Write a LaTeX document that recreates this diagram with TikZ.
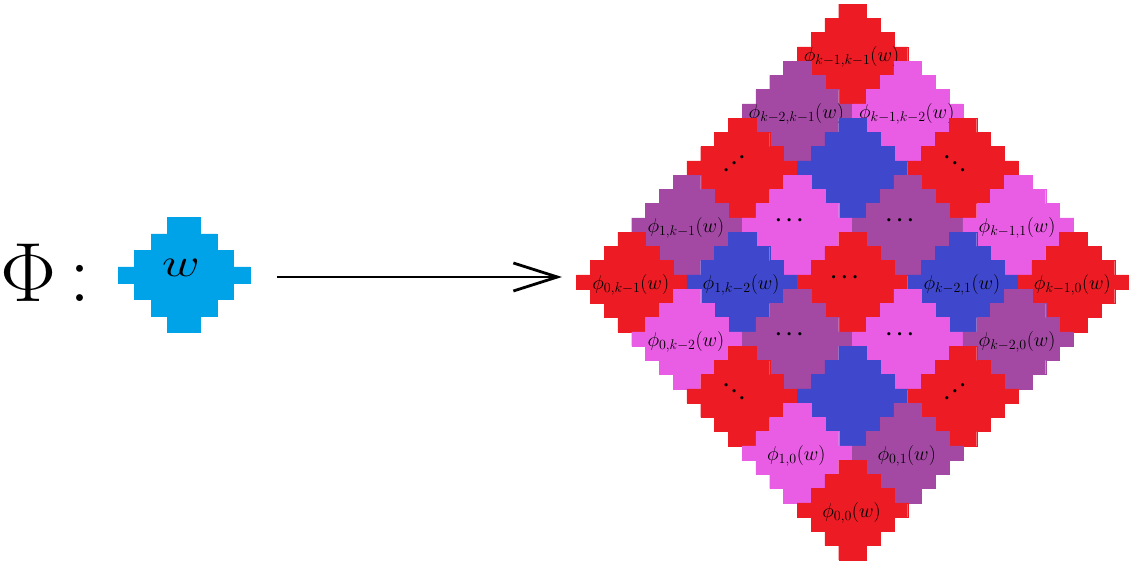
\RequirePackage{fix-cm}
\documentclass[tikz,border=0pt]{standalone}
\usepackage{graphicx}
\usetikzlibrary{arrows.meta}
\definecolor{tred}{HTML}{ED1C24}
\definecolor{tpurple}{HTML}{A349A4}
\definecolor{tblue}{HTML}{3F48CC}
\definecolor{tpink}{HTML}{E95CE4}
\definecolor{tcyan}{HTML}{00A2E8}
\tikzset{
  lab/.style={inner sep=0pt, font=\fontsize{20}{22}\selectfont},
  dotlab/.style={inner sep=0pt, font=\fontsize{21}{24}\selectfont\boldmath},
  conn/.style={line width=2.8pt, -{Straight Barb[length=44pt,width=28pt]}},
}
% staircase diamond centred at (#1,#2), colour #3, units #4 x #5
\newcommand\stairfill[5]{%
  \fill[#3, draw=#3, line width=0.4pt, shift={(#1,#2)}, x=#4, y=#5]
    (-1,-3.5) -| (1,-2.5) -| (2,-1.5) -| (3,-0.5) -| (4,0.5)
    -| (3,1.5) -| (2,2.5) -| (1,3.5) -- (-1,3.5)
    |- (-2,2.5) |- (-3,1.5) |- (-4,0.5) -- (-4,-0.5)
    -| (-3,-1.5) -| (-2,-2.5) -| (-1,-3.5) -- cycle;}
\newcommand\etile[3]{\stairfill{{852.5+(#1)*55.2}}{{282+(#2)*57}}{#3}{13.8pt}{14.25pt}}
\newcommand\dtile[5]{\etile{#1}{#2}{#3}%
  \node[lab] (#4) at ({852.5+(#1)*55.2-1},{282+(#2)*57+3}) {#5};}
\newcommand\dottile[5]{\etile{#1}{#2}{#3}%
  \node[dotlab] (#4) at ({852.5+(#1)*55.2-8},{282+(#2)*57-4}) {#5};}
\newcommand\updots{$\cdotp$\kern1.2pt\raisebox{6.5pt}{$\cdotp$}\kern1.2pt\raisebox{13pt}{$\cdotp$}}
\newcommand\dndots{\raisebox{13pt}{$\cdotp$}\kern1.2pt\raisebox{6.5pt}{$\cdotp$}\kern1.2pt$\cdotp$}
\begin{document}
\begin{tikzpicture}[x=1pt,y=-1pt]
\useasboundingbox (0,0) rectangle (1136,564);
% left part
\node[inner sep=0pt, font=\fontsize{84}{88}\selectfont, anchor=west] (phi) at (0,272.5) {$\Phi$\kern13pt:};
\stairfill{184}{275}{tcyan}{16.5pt}{16.4pt}
\node[inner sep=0pt, font=\fontsize{40}{44}\selectfont] (w) at (181,268) {\scalebox{1.3}[1]{$w$}};
% big diamond
\dtile{0}{-4}{tred}{t1}{$\phi_{k-1,k-1}(w)$}
\dtile{-1}{-3}{tpurple}{t2}{$\phi_{k-2,k-1}(w)$}
\dtile{1}{-3}{tpink}{t3}{$\phi_{k-1,k-2}(w)$}
\dottile{-2}{-2}{tred}{t4}{\updots}
\etile{0}{-2}{tblue}
\dottile{2}{-2}{tred}{t5}{\dndots}
\dtile{-3}{-1}{tpurple}{t6}{$\phi_{1,k-1}(w)$}
\dottile{-1}{-1}{tpink}{t7}{$\cdots$}
\dottile{1}{-1}{tpurple}{t8}{$\cdots$}
\dtile{3}{-1}{tpink}{t9}{$\phi_{k-1,1}(w)$}
\dtile{-4}{0}{tred}{t10}{$\phi_{0,k-1}(w)$}
\dtile{-2}{0}{tblue}{t11}{$\phi_{1,k-2}(w)$}
\dottile{0}{0}{tred}{t12}{$\cdots$}
\dtile{2}{0}{tblue}{t13}{$\phi_{k-2,1}(w)$}
\dtile{4}{0}{tred}{t14}{$\phi_{k-1,0}(w)$}
\dtile{-3}{1}{tpink}{t15}{$\phi_{0,k-2}(w)$}
\dottile{-1}{1}{tpurple}{t16}{$\cdots$}
\dottile{1}{1}{tpink}{t17}{$\cdots$}
\dtile{3}{1}{tpurple}{t18}{$\phi_{k-2,0}(w)$}
\dottile{-2}{2}{tred}{t19}{\dndots}
\etile{0}{2}{tblue}
\dottile{2}{2}{tred}{t20}{\updots}
\dtile{-1}{3}{tpink}{t21}{$\phi_{1,0}(w)$}
\dtile{1}{3}{tpurple}{t22}{$\phi_{0,1}(w)$}
\dtile{0}{4}{tred}{t23}{$\phi_{0,0}(w)$}
% arrow
\coordinate (astart) at (277,277);
\coordinate (aend) at (562,277);
\draw[conn] (astart) -- (aend);
\end{tikzpicture}
\end{document}
